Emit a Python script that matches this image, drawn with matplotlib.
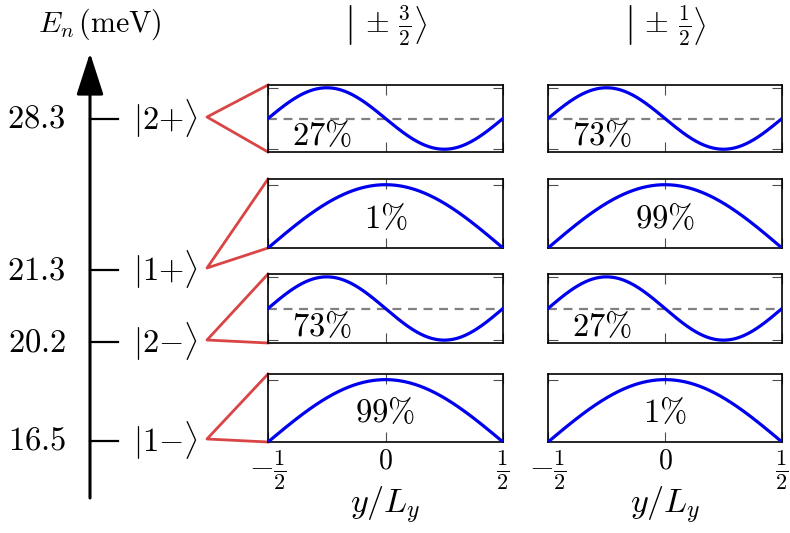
import numpy as np
import matplotlib
import matplotlib.pyplot as plt

matplotlib.use('agg')
plt.rcParams['mathtext.fontset'] = 'cm'
plt.rcParams['font.family'] = ['DejaVu Serif']

# energy levels (meV) and their state labels, top to bottom
energies = [28.3, 21.3, 20.2, 16.5]
states = [r'|2{+}\rangle', r'|1{+}\rangle', r'|2{-}\rangle', r'|1{-}\rangle']
# odd (sin-like) or even (cos-like) envelope for each state
parity = ['odd', 'even', 'odd', 'even']
# weight of each spin component (%)
weight_32 = [27, 1, 73, 99]
weight_12 = [73, 99, 27, 1]
columns = [r'$\left|\,\pm\,\frac{3}{2}\right\rangle$',
           r'$\left|\,\pm\,\frac{1}{2}\right\rangle$']
xticks = [-0.5, 0, 0.5]
xticklabels = [r'$-\frac{1}{2}$', r'$0$', r'$\frac{1}{2}$']

# layout in pixels (schematic, not to scale)
W, H = 790, 533
level_y = [119, 270, 342, 441]
row_box = [(85, 152), (179, 248), (274, 343), (374, 442)]
col_x = [(268, 503), (548, 782)]
fs = 23.5
red = '#d94545'


def fig_rect(x0, x1, y0, y1):
    return [x0 / W, 1 - y1 / H, (x1 - x0) / W, (y1 - y0) / H]


fig = plt.figure(figsize=(W / 100, H / 100), dpi=100)

# schematic level diagram drawn in pixel coordinates
ax0 = fig.add_axes([0, 0, 1, 1], zorder=0)
ax0.set_xlim(0, W)
ax0.set_ylim(H, 0)
ax0.axis('off')

ax0.annotate('', xy=(90, 53), xytext=(90, 498),
             arrowprops=dict(arrowstyle='-|>,head_length=1.3,head_width=0.42',
                             lw=2.2, color='k', mutation_scale=20,
                             shrinkA=0, shrinkB=0))
ax0.text(100, 24, r'$E_n\,(\mathrm{meV})$', fontsize=21.5, ha='center', va='center')

for e, s, ly, (top, bot) in zip(energies, states, level_y, row_box):
    ax0.plot([90, 118], [ly, ly], color='k', lw=1.6)
    ax0.text(66, ly, f'${e:.1f}$', fontsize=fs, ha='right', va='center')
    ax0.text(133, ly, f'${s}$', fontsize=fs, ha='left', va='center')
    vx, vy = 207, ly - 2
    ax0.plot([col_x[0][0], vx, col_x[0][0]], [top, vy, bot], color=red, lw=2)

y = np.linspace(-0.5, 0.5, 300)
for r in range(4):
    top, bot = row_box[r]
    for c, w in enumerate([weight_32[r], weight_12[r]]):
        x0, x1 = col_x[c]
        ax = fig.add_axes(fig_rect(x0, x1, top, bot), zorder=2)
        if parity[r] == 'odd':
            ax.plot(y, -np.sin(2 * np.pi * y), color='#0000ee', lw=2.3, zorder=3)
            ax.axhline(0, color='0.5', lw=1.6, ls=(0, (4, 3)), zorder=2)
            ax.set_ylim(-1.09, 1.09)
            ax.set_yticks([-1, 1])
            ax.text(-0.27, -0.58, rf'${w}\%$', fontsize=fs, ha='center', va='center')
        else:
            ax.plot(y, np.cos(np.pi * y), color='#0000ee', lw=2.3, zorder=3)
            ax.set_ylim(0, 1.09)
            ax.set_yticks([1])
            ax.text(0, 0.46, rf'${w}\%$', fontsize=fs, ha='center', va='center')
        ax.set_xlim(-0.5, 0.5)
        ax.set_xticks(xticks)
        ax.set_yticklabels([])
        ax.tick_params(direction='in', top=True, right=True, length=7,
                       width=0.8, color='0.3', labelsize=20, pad=4)
        for sp in ax.spines.values():
            sp.set_linewidth(1.2)
        if r == 3:
            labels = ax.set_xticklabels(xticklabels)
            labels[0].set_fontsize(23)
            labels[2].set_fontsize(23)
            ax.set_xlabel(r'$y/L_y$', fontsize=24.5, labelpad=-5)
        else:
            ax.set_xticklabels([])
        if r == 0:
            ax.set_title(columns[c], fontsize=22, pad=38)

fig.savefig('out.png', dpi=100)
